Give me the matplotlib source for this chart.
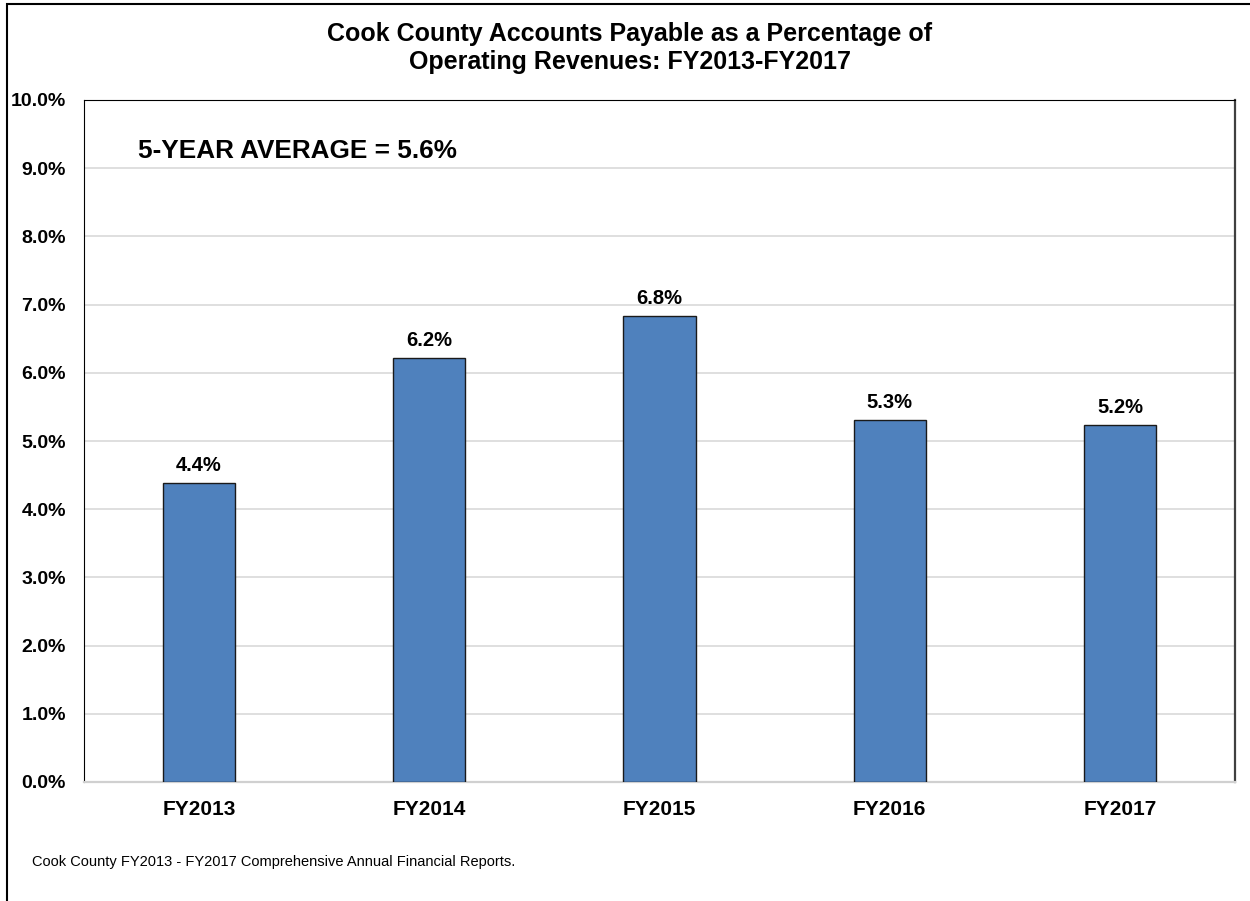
import matplotlib
matplotlib.use("Agg")
import matplotlib.pyplot as plt
from matplotlib.patches import Rectangle
from matplotlib.ticker import FuncFormatter

categories = ["FY2013", "FY2014", "FY2015", "FY2016", "FY2017"]
values = [4.38, 6.22, 6.83, 5.31, 5.23]
labels = ["4.4%", "6.2%", "6.8%", "5.3%", "5.2%"]
yticks = [0, 1, 2, 3, 4, 5, 6, 7, 8, 9, 10]

plt.rcParams['font.family'] = ['Liberation Sans', 'DejaVu Sans']

fig = plt.figure(figsize=(12.5, 9.01), dpi=100)
ax = fig.add_axes([84/1250, 1-782/901, (1235-84)/1250, (782-100)/901])

x = list(range(len(categories)))
bars = ax.bar(x, values, width=0.313, color="#4F81BD", edgecolor="#1a1a1a", linewidth=1.0, zorder=3)
for xi, v, lab in zip(x, values, labels):
    ax.text(xi, v + 0.12, lab, ha="center", va="bottom", fontsize=14.5, fontweight="bold", zorder=4)

ax.set_xlim(-0.5, len(categories) - 0.5)
ax.set_ylim(0, 10)
ax.set_yticks(yticks)
ax.yaxis.set_major_formatter(FuncFormatter(lambda v, p: f"{v:.1f}%"))
ax.set_xticks(x)
ax.set_xticklabels(categories)
for t in ax.get_yticklabels():
    t.set_fontsize(14); t.set_fontweight("bold")
for t in ax.get_xticklabels():
    t.set_fontsize(15); t.set_fontweight("bold")
ax.tick_params(axis="both", length=0)
ax.tick_params(axis="y", pad=13)
ax.tick_params(axis="x", pad=13)
ax.grid(axis="y", color="#d9d9d9", linewidth=1.2, zorder=0)
ax.spines["left"].set_color("black")
ax.spines["top"].set_color("black")
ax.spines["right"].set_color("#404040")
ax.spines["right"].set_linewidth(1.6)
ax.spines["bottom"].set_color("#d0d0d0")
ax.spines["bottom"].set_linewidth(1.6)

ax.text(0.047, 0.925, "5-YEAR AVERAGE = 5.6%", transform=ax.transAxes, fontsize=18.8,
        fontweight="bold", ha="left", va="center")

fig.text(0.504, 1-34/901, "Cook County Accounts Payable as a Percentage of", ha="center", va="center",
         fontsize=18, fontweight="bold")
fig.text(0.504, 1-62/901, "Operating Revenues: FY2013-FY2017", ha="center", va="center",
         fontsize=18, fontweight="bold")
fig.text(32/1250, 1-862/901, "Cook County FY2013 - FY2017 Comprehensive Annual Financial Reports.",
         ha="left", va="center", fontsize=10.5)

fig.patches.append(Rectangle((7/1250, -0.05), 1.1, 1-4/901 + 0.05, transform=fig.transFigure,
                             fill=False, edgecolor="black", linewidth=1.5, clip_on=False))

fig.savefig("out.png", dpi=100)
